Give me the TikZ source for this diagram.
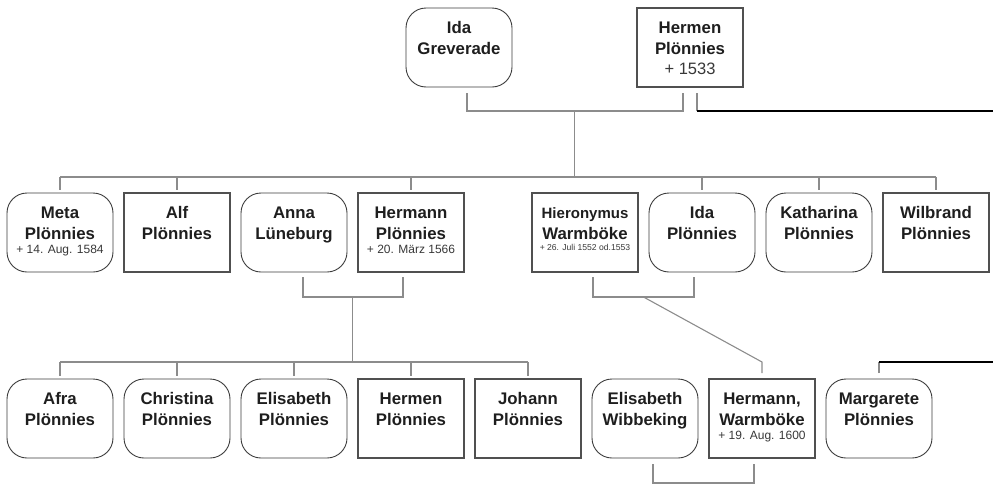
\documentclass[tikz,border=0pt]{standalone}
\usepackage{fontspec}
\setmainfont{Liberation Sans}
\usepackage{tikz}
\usetikzlibrary{positioning,calc}

\definecolor{linkgrey}{HTML}{8C8C8C}
\definecolor{boxline}{HTML}{3C3C3C}
\definecolor{sqline}{HTML}{505050}
\definecolor{nametext}{HTML}{1E1E1E}
\definecolor{datetext}{HTML}{383838}

% name in two lines, optional date below
\newcommand{\person}[3]{\parbox[t][63pt][t]{104pt}{\centering
  \fontsize{16.8}{21}\selectfont\bfseries\rule{0pt}{17pt}#1\\#2\par
  \mdseries\color{datetext}\fontsize{12}{14}\selectfont #3\par}}

\begin{document}
\begin{tikzpicture}[
    x=1pt, y=-1pt,
    node distance=11pt,
    pbox/.style={draw=boxline, text=nametext, inner xsep=1pt, inner ysep=8pt, outer sep=0pt, minimum width=106pt, minimum height=79pt},
    rbox/.style={pbox, rounded corners=20pt, line width=0.9pt},
    sbox/.style={pbox, draw=sqline, line width=1.1pt},
    link/.style={draw=linkgrey, line width=1.1pt},
    stem/.style={link, shorten >=3pt},
    famline/.style={draw=black, line width=1.3pt}
]
    \useasboundingbox (0,0) rectangle (993,485);

    % first generation
    \node [rbox, anchor=north west] (idag) at (406,8) {\person{Ida}{Greverade}{}};
    \node [sbox, right=125pt of idag] (hermen) {\person{Hermen}{Plönnies}{{\fontsize{16.5}{20}\selectfont + 1533\par}}};

    % second generation
    \node [rbox, anchor=north west] (meta) at (7,193) {\person{Meta}{Plönnies}{+ 14. Aug. 1584}};
    \node [sbox, right=of meta] (alf) {\person{Alf}{Plönnies}{}};
    \node [rbox, right=of alf] (anna) {\person{Anna}{Lüneburg}{}};
    \node [sbox, right=of anna] (hermann) {\person{Hermann}{Plönnies}{+ 20. März 1566}};
    \node [sbox, right=68pt of hermann] (hieronymus) {\person{{\fontsize{15}{21}\selectfont Hieronymus}}{Warmböke}{{\fontsize{8.6}{11}\selectfont + 26. Juli 1552 od.1553\par}}};
    \node [rbox, right=of hieronymus] (idap) {\person{Ida}{Plönnies}{}};
    \node [rbox, right=of idap] (katharina) {\person{Katharina}{Plönnies}{}};
    \node [sbox, right=of katharina] (wilbrand) {\person{Wilbrand}{Plönnies}{}};

    % third generation
    \node [rbox, anchor=north west] (afra) at (7,379) {\person{Afra}{Plönnies}{}};
    \node [rbox, right=of afra] (christina) {\person{Christina}{Plönnies}{}};
    \node [rbox, right=of christina] (elisabeth) {\person{Elisabeth}{Plönnies}{}};
    \node [sbox, right=of elisabeth] (hermen2) {\person{Hermen}{Plönnies}{}};
    \node [sbox, right=of hermen2] (johann) {\person{Johann}{Plönnies}{}};
    \node [rbox, right=of johann] (elisabethw) {\person{Elisabeth}{Wibbeking}{}};
    \node [sbox, right=of elisabethw] (hermannw) {\person{Hermann,}{Warmböke}{+ 19. Aug. 1600}};
    \node [rbox, right=of hermannw] (margarete) {\person{Margarete}{Plönnies}{}};

    \coordinate (e1) at (993,0);

    % Ida Greverade + Hermen Plönnies
    \coordinate (c1) at ($(idag.south)!0.5!(hermen.south)+(0,24)$);
    \draw [link] ([shift={(8,6)}]idag.south) |- (c1) -| ([shift={(-7,6)}]hermen.south);
    \draw [link] (c1) -- ++(0,66) coordinate (b1);
    \draw [link] (meta.north |- b1) -- (wilbrand.north |- b1);
    \foreach \n in {meta,alf,hermann,idap,katharina,wilbrand}
        \draw [stem] (\n.north |- b1) -- (\n.north);
    \draw [link] ([shift={(7,6)}]hermen.south) -- ([shift={(7,24)}]hermen.south) coordinate (h1);
    \draw [famline] (h1) -- (h1 -| e1);

    % Anna Lüneburg + Hermann Plönnies
    \coordinate (c2) at ($(anna.south)!0.5!(hermann.south)+(0,25)$);
    \draw [link] ([shift={(9,5)}]anna.south) |- (c2) -| ([shift={(-8,5)}]hermann.south);
    \draw [link] (c2) -- ++(0,65) coordinate (b2);
    \draw [link] (afra.north |- b2) -- (johann.north |- b2);
    \foreach \n in {afra,christina,elisabeth,hermen2,johann}
        \draw [stem] (\n.north |- b2) -- (\n.north);

    % Hieronymus Warmböke + Ida Plönnies
    \coordinate (c3) at ($(hieronymus.south)!0.5!(idap.south)+(0,25)$);
    \draw [link] ([shift={(8,5)}]hieronymus.south) |- (c3) -| ([shift={(-8,5)}]idap.south);
    \draw [link] (c3) -- ([yshift=17pt]hermannw.north) -- ([yshift=6pt]hermannw.north);

    % Elisabeth Wibbeking + Hermann Warmböke
    \draw [link] ([shift={(8,6)}]elisabethw.south) -- ++(0,19) -| ([shift={(-8,6)}]hermannw.south);

    % Margarete
    \draw [link] ([yshift=6pt]margarete.north) -- ([yshift=17pt]margarete.north) coordinate (m1);
    \draw [famline] (m1) -- (m1 -| e1);
\end{tikzpicture}
\end{document}
